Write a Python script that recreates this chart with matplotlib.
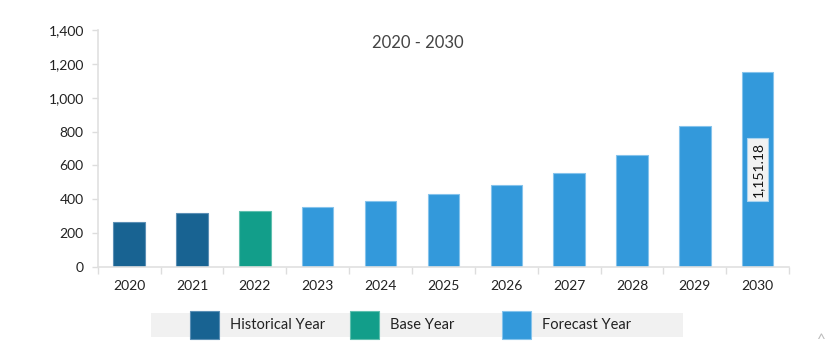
import matplotlib
matplotlib.use("Agg")
import matplotlib.pyplot as plt
from matplotlib.patches import Rectangle
from matplotlib.ticker import FuncFormatter, FixedLocator

# chart data
years = ["2020", "2021", "2022", "2023", "2024", "2025",
         "2026", "2027", "2028", "2029", "2030"]
values = [264, 317, 331, 356, 388, 431, 484, 555, 662, 835, 1151.18]
kinds = ["hist", "hist", "base", "fore", "fore", "fore",
         "fore", "fore", "fore", "fore", "fore"]
legend_labels = ["Historical Year", "Base Year", "Forecast Year"]

colors = {"hist": "#186392", "base": "#129E8A", "fore": "#3399DB"}
edges = {"hist": "#5b8fb5", "base": "#5fbfae", "fore": "#85c3ec"}

plt.rcParams["font.family"] = ["Lato", "DejaVu Sans"]

fig = plt.figure(figsize=(8.26, 3.51), dpi=100)
ax = fig.add_axes([0.1183, 0.2393, 0.8370, 0.6752])

x = list(range(len(years)))
ax.bar(x, values, width=0.5,
       color=[colors[k] for k in kinds],
       edgecolor=[edges[k] for k in kinds], linewidth=0.8)

ax.set_xlim(-0.5, len(years) - 0.5)
ax.set_ylim(0, 1400)
ax.set_yticks(range(0, 1401, 200))
ax.yaxis.set_major_formatter(FuncFormatter(lambda v, p: f"{int(v):,}"))

# x: labels centered, ticks at category boundaries
ax.set_xticks(x)
ax.set_xticklabels(years)
ax.tick_params(axis="x", which="major", length=0, pad=9, labelsize=10, labelcolor="#222222")
ax.xaxis.set_minor_locator(FixedLocator([i - 0.5 for i in range(len(years) + 1)]))
ax.tick_params(axis="x", which="minor", length=5, color="#dddddd", width=1)
ax.tick_params(axis="y", length=4, color="#dddddd", width=1, pad=6, labelsize=10, labelcolor="#222222")

for side in ["top", "right"]:
    ax.spines[side].set_visible(False)
for side in ["left", "bottom"]:
    ax.spines[side].set_color("#e0e0e0")
    ax.spines[side].set_linewidth(1.2)

# title inside the axes
ax.text(0.463, 0.945, "2020 - 2030", transform=ax.transAxes, ha="center", va="center",
        fontsize=12, color="#444444")

# value label on last bar
last = len(values) - 1
ax.text(x[last], values[last] / 2, f"{values[last]:,.2f}", rotation=90,
        ha="center", va="center", fontsize=10, color="#111111",
        bbox=dict(boxstyle="square,pad=0.3", facecolor="#f2f2f2", edgecolor="#a9d3ef", linewidth=0.8))

# custom legend
W, H = 826, 351
def fx(px):
    return px / W
def fy(py):
    return 1 - py / H

fig.patches.append(Rectangle((fx(151), fy(337)), fx(683) - fx(151), fy(313) - fy(337),
                             transform=fig.transFigure, facecolor="#f1f1f1", edgecolor="none"))
patch_x = [190, 350, 502]
text_x = [230, 390, 542]
for px, tx, k, lab in zip(patch_x, text_x, ["hist", "base", "fore"], legend_labels):
    fig.patches.append(Rectangle((fx(px), fy(339)), fx(29), fy(311) - fy(339),
                                 transform=fig.transFigure, facecolor=colors[k],
                                 edgecolor=edges[k], linewidth=0.8))
    fig.text(fx(tx), fy(325), lab, ha="left", va="center", fontsize=10.5, color="#222222")

fig.text(fx(821), fy(340), "^", ha="center", va="center", fontsize=11, color="#bbbbbb")

fig.savefig("out.png", dpi=100)
